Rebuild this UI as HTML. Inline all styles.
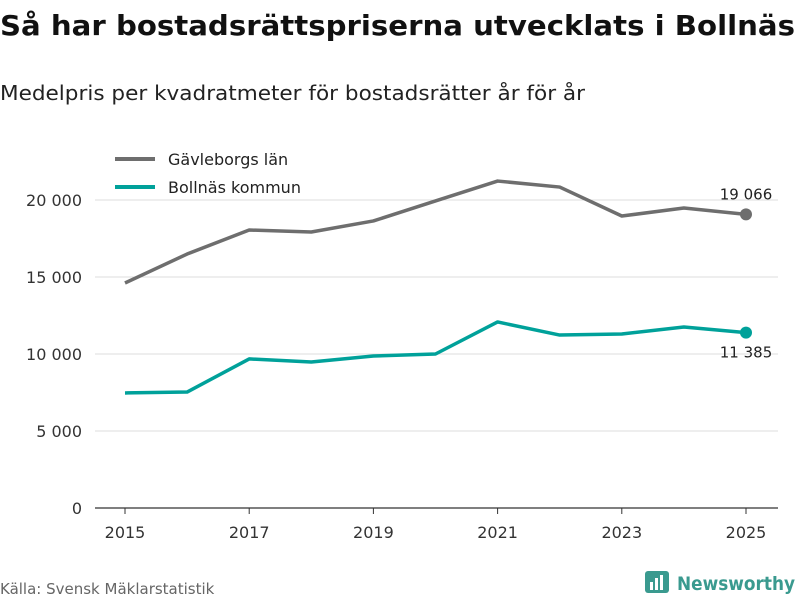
<!DOCTYPE html>
<html><head><meta charset="utf-8"><style>
body{margin:0;background:#fff;width:800px;height:600px;overflow:hidden;font-family:"DejaVu Sans","Liberation Sans",sans-serif;}
svg text{font-family:"DejaVu Sans","Liberation Sans",sans-serif;}
</style></head><body>
<svg width="800" height="600">
<text x="0" y="35" font-size="28" font-weight="bold" fill="#111" textLength="795" lengthAdjust="spacingAndGlyphs">Så har bostadsrättspriserna utvecklats i Bollnäs</text>
<text x="0" y="100" font-size="20" fill="#222" textLength="585" lengthAdjust="spacingAndGlyphs">Medelpris per kvadratmeter för bostadsrätter år för år</text>
<g id="grid"></g><g id="xaxis"></g><g id="lines"></g>
<g>
<line x1="115" y1="159" x2="155" y2="159" stroke="#6e6e6e" stroke-width="4"/>
<text x="168" y="165" font-size="16" fill="#222">Gävleborgs län</text>
<line x1="115" y1="187" x2="155" y2="187" stroke="#00a19a" stroke-width="4"/>
<text x="168" y="193" font-size="16" fill="#222">Bollnäs kommun</text>
</g>
<text x="0" y="594" font-size="15" fill="#666">Källa: Svensk Mäklarstatistik</text>
<g>
<rect x="645" y="571" width="24" height="22" rx="3" fill="#3a9a8f"/>
<rect x="650" y="582" width="3" height="8" fill="#fff"/><rect x="655" y="578" width="3" height="12" fill="#fff"/><rect x="660" y="575" width="3" height="15" fill="#fff"/>
<text x="677" y="590" font-size="19" font-weight="bold" fill="#3a9a8f" textLength="118" lengthAdjust="spacingAndGlyphs">Newsworthy</text>
</g>
</svg>
<script>
const years=[2015,2016,2017,2018,2019,2020,2021,2022,2023,2024,2025];
const gavleborg=[14610,16490,18050,17920,18640,19940,21230,20840,18960,19480,19066];
const bollnas=[7470,7530,9680,9480,9870,10000,12080,11230,11300,11750,11385];
const yTicks=[0,5000,10000,15000,20000];
const yTickLabels=["0","5 000","10 000","15 000","20 000"];
const xTicks=[2015,2017,2019,2021,2023,2025];
const NS="http://www.w3.org/2000/svg";
const x=v=>125+(v-2015)*62.1;
const y=v=>508-v*0.0154;
function mk(t,a,p){const e=document.createElementNS(NS,t);for(const k in a)e.setAttribute(k,a[k]);p.appendChild(e);return e;}
const grid=document.getElementById('grid');
yTicks.forEach((t,i)=>{
 const l=mk('line',{x1:95,x2:778,y1:y(t),y2:y(t),stroke:t===0?'#333':'#ddd','stroke-width':t===0?1.2:1},grid);
 
 
 const tx=mk('text',{x:82,y:y(t)+6,'text-anchor':'end','font-size':16,fill:'#333'},grid);
 tx.textContent=yTickLabels[i];
 
 
});
const xa=document.getElementById('xaxis');
xTicks.forEach(t=>{
 const l=mk('line',{x1:x(t),x2:x(t),y1:508,y2:514,stroke:'#333'},xa);
 
 
 const tx=mk('text',{x:x(t),y:538,'text-anchor':'middle','font-size':16,fill:'#333'},xa);
 tx.textContent=t;
 
 
});
const lg=document.getElementById('lines');
function series(vals,color,name,labelDy){
 const p=mk('polyline',{points:vals.map((v,i)=>x(years[i])+','+y(v)).join(' '),fill:'none',stroke:color,'stroke-width':3.5,'stroke-linejoin':'round'},lg);
 
 
 const n=vals.length-1;
 const c=mk('circle',{cx:x(years[n]),cy:y(vals[n]),r:6,fill:color},lg);
 
 
 const t=mk('text',{x:x(years[n]),y:y(vals[n])+labelDy,'text-anchor':'middle','font-size':15,fill:'#222'},lg);
 t.textContent=String(vals[n]).replace(/\B(?=(\d{3})+$)/g,' ');
 
 
}
series(gavleborg,'#6e6e6e','gavleborg',-15);
series(bollnas,'#00a19a','bollnas',25);
</script>
</body></html>
